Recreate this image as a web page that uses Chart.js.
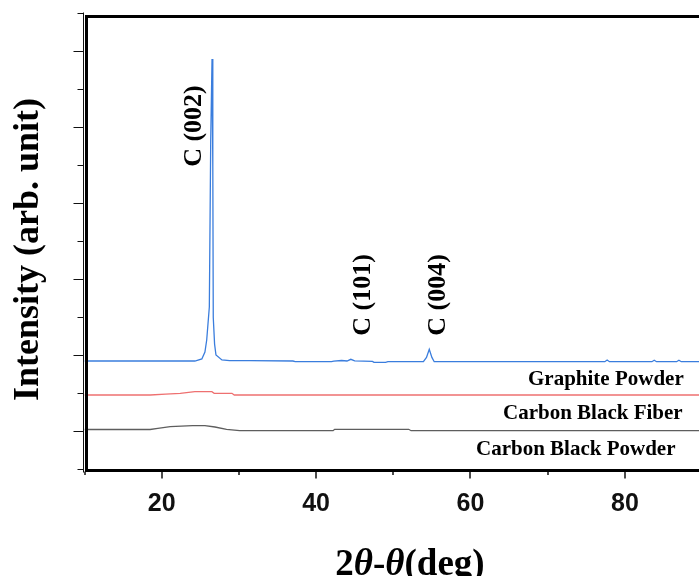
<!DOCTYPE html>
<html>
<head>
<meta charset="utf-8">
<script src="https://cdn.jsdelivr.net/npm/chart.js@4.4.1/dist/chart.umd.min.js"></script>
<style>
  html, body { margin: 0; padding: 0; background: #fff; overflow: hidden; }
  #wrap { position: relative; width: 699px; height: 576px; }
  #xrd { display: block; }
</style>
</head>
<body>
<div id="wrap"><canvas id="xrd"></canvas></div>
<script>
// 2θ (deg) / intensity (a.u., curves stacked by offset)
const graphiteTheta = [10, 24.3, 25.2, 25.6, 25.83, 26.17, 26.35, 26.52, 26.62, 26.68, 26.85, 27.03, 27.8, 28.8, 31.4, 37.0, 37.3, 42.0, 42.3, 43.3, 44.0, 44.5, 45.0, 47.3, 47.5, 49.0, 49.3, 53.9, 54.3, 54.66, 55.0, 55.3, 77.4, 77.7, 78.0, 83.5, 83.8, 84.1, 86.7, 87.0, 87.3, 89.6];
const graphiteInt   = [2855, 2855, 2908, 3092, 3408, 4276, 8671, 10803, 8000, 4000, 3300, 3013, 2882, 2863, 2863, 2855, 2837, 2837, 2850, 2868, 2855, 2900, 2860, 2845, 2821, 2821, 2837, 2837, 2950, 3163, 2950, 2837, 2837, 2880, 2837, 2837, 2875, 2837, 2837, 2875, 2837, 2837];

const fiberTheta = [10, 18.5, 20.5, 22.4, 24.3, 26.5, 26.8, 29.1, 29.4, 89.6];
const fiberInt   = [1961, 1961, 1985, 2005, 2047, 2047, 2005, 2005, 1961, 1961];

const powderTheta = [10, 18.5, 19.5, 21.1, 24.0, 25.6, 26.9, 28.4, 30.1, 42.2, 42.4, 52.0, 52.3, 89.6];
const powderInt   = [1053, 1053, 1084, 1126, 1153, 1153, 1118, 1058, 1021, 1021, 1058, 1058, 1021, 1021];

const seriesNames  = ["Graphite Powder", "Carbon Black Fiber", "Carbon Black Powder"];
const seriesColors = ["#3a7ddd", "#ee7070", "#5e5e5e"];
const xTickLabels  = [20, 40, 60, 80];

// text annotations, anchored in data coordinates
const peakNames = ["C (002)", "C (101)", "C (004)"];
const peakAt    = [[25.09, 9039], [46.98, 4592], [56.70, 4592]];
const nameAt    = [[67.45, 2224], [64.21, 1329], [60.71, 382]];

const pts = (xs, ys) => xs.map((v, i) => ({ x: v, y: ys[i] }));
const SERIF = "'Liberation Serif', 'Times New Roman', serif";

const decor = {
  id: "decor",
  afterDatasetsDraw(chart) {
    const { ctx, chartArea: a, scales: { x, y } } = chart;
    ctx.save();
    ctx.strokeStyle = "#111";

    // thin y axis with alternating tick lengths
    ctx.lineWidth = 1;
    ctx.beginPath();
    ctx.moveTo(a.left - 1, a.top - 1); ctx.lineTo(a.left - 1, a.bottom + 3);
    y.ticks.forEach(t => {
      const py = Math.floor(y.getPixelForValue(t.value)) + 0.5;
      const len = (t.value / 1000) % 2 ? 10 : 6;
      ctx.moveTo(a.left - 1 - len, py); ctx.lineTo(a.left - 1, py);
    });
    ctx.stroke();

    // x ticks below the axis
    ctx.lineWidth = 1.5;
    ctx.beginPath();
    x.ticks.filter(t => t.value % 10 === 0).forEach(t => {
      const px = Math.round(x.getPixelForValue(t.value));
      ctx.moveTo(px, a.bottom + 2); ctx.lineTo(px, a.bottom + (t.value % 20 === 0 ? 9 : 5.5));
    });
    ctx.stroke();

    // heavy frame
    ctx.strokeStyle = "#000";
    ctx.lineWidth = 3;
    ctx.beginPath();
    ctx.moveTo(a.right, a.top + 3); ctx.lineTo(a.left + 2, a.top + 3);
    ctx.lineTo(a.left + 2, a.bottom + 1);
    ctx.moveTo(a.left + 0.5, a.bottom + 1); ctx.lineTo(a.right, a.bottom + 1);
    ctx.stroke();

    ctx.fillStyle = "#000";
    // peak labels
    ctx.font = "bold 26px " + SERIF;
    ctx.textAlign = "center"; ctx.textBaseline = "alphabetic";
    peakNames.forEach((s, i) => {
      ctx.save();
      ctx.translate(x.getPixelForValue(peakAt[i][0]), y.getPixelForValue(peakAt[i][1]));
      ctx.rotate(-Math.PI / 2);
      ctx.fillText(s, 0, 0);
      ctx.restore();
    });
    // series names
    ctx.font = "bold 21px " + SERIF;
    ctx.textAlign = "left";
    seriesNames.forEach((s, i) => ctx.fillText(s, x.getPixelForValue(nameAt[i][0]), y.getPixelForValue(nameAt[i][1])));

    // y title
    ctx.save();
    ctx.font = "bold 36px " + SERIF;
    ctx.translate(38, 401); ctx.rotate(-Math.PI / 2);
    ctx.textAlign = "left";
    ctx.fillText("Intensity (arb. unit)", 0, 0);
    ctx.restore();

    // x title with italic theta
    const parts = [["2", ""], ["θ", "italic "], ["-", ""], ["θ", "italic "], ["(deg)", ""]];
    const fsz = 37;
    let w = 0;
    parts.forEach(p => { ctx.font = p[1] + "bold " + fsz + "px " + SERIF; w += ctx.measureText(p[0]).width; });
    let cx = 410 - w / 2;
    parts.forEach(p => {
      ctx.font = p[1] + "bold " + fsz + "px " + SERIF;
      ctx.fillText(p[0], cx, 575);
      cx += ctx.measureText(p[0]).width;
    });
    ctx.restore();
  }
};

new Chart(document.getElementById("xrd"), {
  type: "line",
  data: {
    datasets: [
      { label: seriesNames[0], data: pts(graphiteTheta, graphiteInt), borderColor: seriesColors[0] },
      { label: seriesNames[1], data: pts(fiberTheta, fiberInt), borderColor: seriesColors[1] },
      { label: seriesNames[2], data: pts(powderTheta, powderInt), borderColor: seriesColors[2] },
    ],
  },
  options: {
    responsive: true, maintainAspectRatio: false, animation: false,
    layout: { padding: { top: 13.5, right: 0, left: 0, bottom: 0 } },
    elements: { point: { radius: 0 }, line: { borderWidth: 1.3, tension: 0 } },
    plugins: { legend: { display: false }, tooltip: { enabled: false } },
    scales: {
      x: {
        type: "linear", min: 10, max: 89.6,
        grid: { display: false }, border: { display: false },
        afterFit: s => { s.height = 106.5; },
        ticks: {
          stepSize: 10, padding: 12, color: "#111", includeBounds: false, autoSkip: false, maxRotation: 0,
          font: { family: "'Liberation Sans', Arial, sans-serif", size: 25, weight: "bold" },
          callback: v => xTickLabels.includes(v) ? String(v) : "",
        },
      },
      y: {
        min: 0, max: 12000,
        grid: { display: false }, border: { display: false },
        afterFit: s => { s.width = 84.5; },
        ticks: { stepSize: 1000, display: false },
      },
    },
  },
  plugins: [decor],
});
</script>
</body>
</html>
